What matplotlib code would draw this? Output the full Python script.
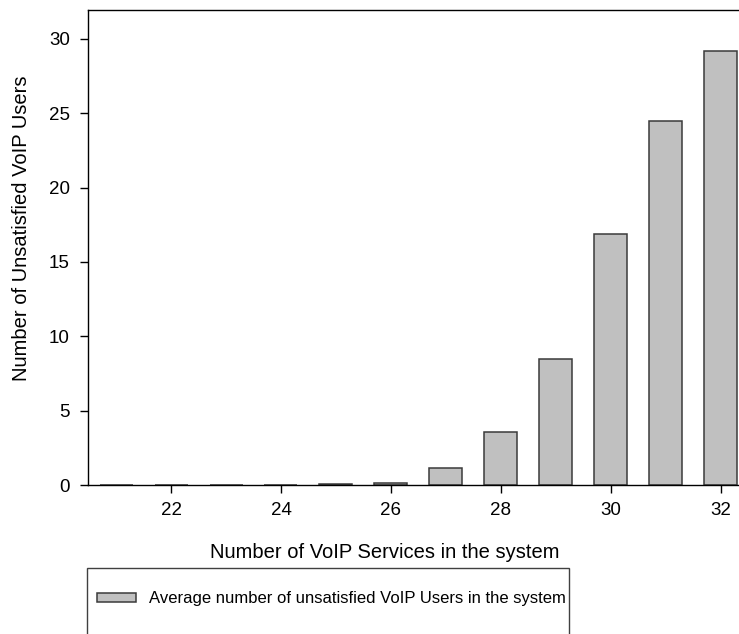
import numpy as np
import matplotlib.pyplot as plt
from matplotlib.patches import Rectangle

plt.rcParams['font.family'] = ['Liberation Sans', 'DejaVu Sans']

# number of VoIP services vs average unsatisfied users
services = [21, 22, 23, 24, 25, 26, 27, 28, 29, 30, 31, 32]
unsatisfied = [0, 0, 0, 0, 0.05, 0.15, 1.14, 3.56, 8.47, 16.88, 24.5, 29.2]

x_ticks = [22, 24, 26, 28, 30, 32]
y_ticks = [0, 5, 10, 15, 20, 25, 30]
legend_label = "Average number of unsatisfied VoIP Users in the system"


def main():
    fig = plt.figure(figsize=(7.39, 6.34), dpi=100)
    ax = fig.add_axes([88 / 739, 1 - 485 / 634, 1 - 88 / 739, (485 - 10) / 634])

    bars = ax.bar(services, unsatisfied, width=0.6, color='#c0c0c0',
                  edgecolor='#3a3a3a', linewidth=1.1, label=legend_label)

    ax.set_xlim(20.49, 32.33)
    ax.set_ylim(0, 31.95)
    ax.set_xticks(x_ticks)
    ax.set_yticks(y_ticks)
    ax.tick_params(direction='out', length=6, width=1, labelsize=13.5)
    ax.tick_params(axis='x', pad=6)
    ax.tick_params(axis='y', pad=7)
    ax.spines['right'].set_visible(False)
    for s in ['left', 'bottom', 'top']:
        ax.spines[s].set_linewidth(1.0)

    ax.set_xlabel("Number of VoIP Services in the system", fontsize=14.5)
    ax.set_ylabel("Number of Unsatisfied VoIP Users", fontsize=14.5)
    # label positions in axes fraction
    ax.xaxis.set_label_coords((385 - 88) / (739 - 88), -(552 - 485) / 475)
    ax.yaxis.set_label_coords(-(88 - 22) / 651, (485 - 228) / 475)
    ax.xaxis.label.set_va('center')
    ax.yaxis.label.set_va('center')

    # legend box runs off the bottom of the picture
    frame = Rectangle((87 / 739, -0.05), (569 - 87) / 739, 1 - 568 / 634 + 0.05,
                      transform=fig.transFigure, fill=False, edgecolor='#404040',
                      linewidth=1.0)
    fig.patches.append(frame)
    fig.legend(handles=[bars], labels=[legend_label], loc='center left',
               bbox_to_anchor=(94 / 739, 1 - 599 / 634), frameon=False,
               fontsize=12, handlelength=2.3, handleheight=0.5,
               handletextpad=0.78, borderpad=0.2, borderaxespad=0)

    fig.savefig("out.png", dpi=100)


main()
